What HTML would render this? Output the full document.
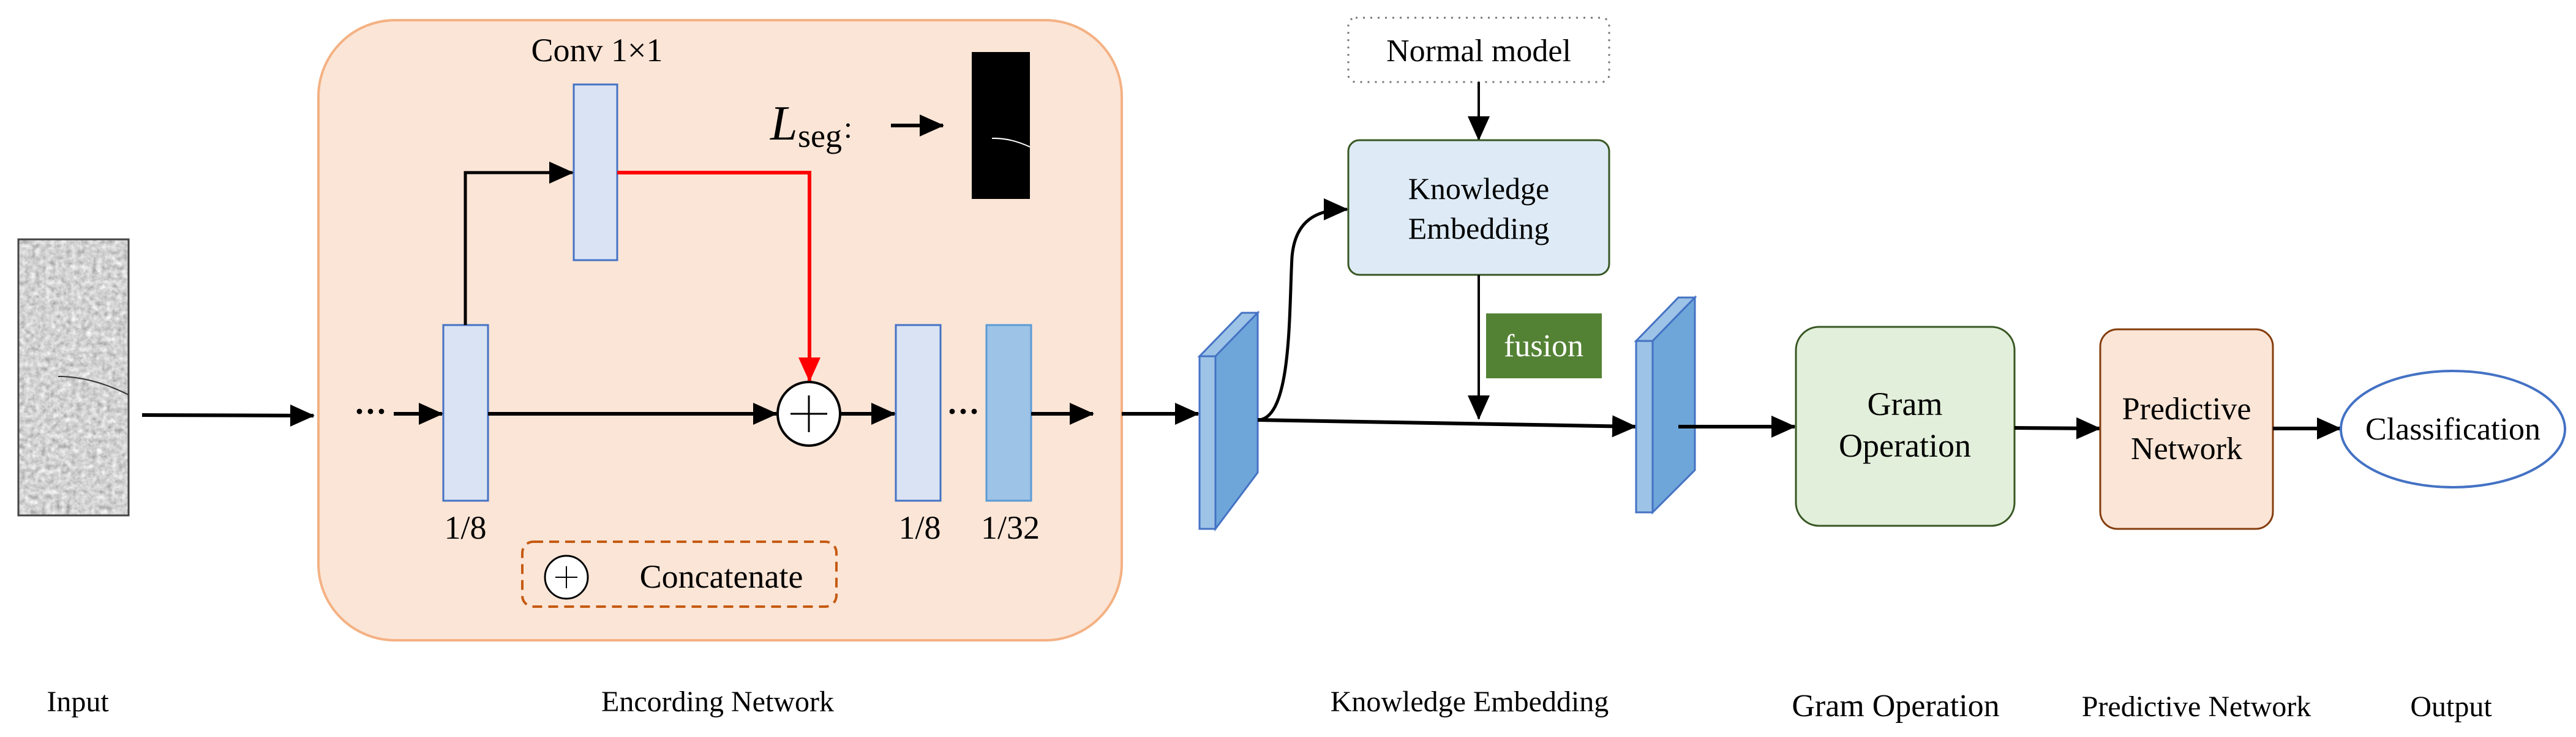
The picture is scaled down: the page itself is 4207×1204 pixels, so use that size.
<!DOCTYPE html>
<html><head><meta charset="utf-8"><style>
html,body{margin:0;padding:0;background:#fff;}
svg{display:block;}
svg text{font-family:'Liberation Serif','DejaVu Serif','Times New Roman',serif !important;}
</style></head><body>
<svg width="4207" height="1204" viewBox="0 0 4207 1204" xmlns="http://www.w3.org/2000/svg" style="font-family:'Liberation Serif','DejaVu Serif',serif">
<defs>
<marker id="ah" markerWidth="40" markerHeight="36" refX="38" refY="18" orient="auto" markerUnits="userSpaceOnUse">
<path d="M0,0 L40,18 L0,36 z" fill="#000"/></marker>
<marker id="ahr" markerWidth="40" markerHeight="36" refX="38" refY="18" orient="auto" markerUnits="userSpaceOnUse">
<path d="M0,0 L40,18 L0,36 z" fill="#f00"/></marker>
<filter id="noise" x="0" y="0" width="100%" height="100%">
<feTurbulence type="fractalNoise" baseFrequency="0.12" numOctaves="3" seed="3"/>
<feColorMatrix type="matrix" values="0.5 0.5 0 0 0.15  0.5 0.5 0 0 0.15  0.5 0.5 0 0 0.15  0 0 0 0 1"/>
</filter>
</defs>

<rect x="30" y="391" width="180" height="451" filter="url(#noise)"/>
<rect x="30" y="391" width="180" height="451" fill="none" stroke="#444" stroke-width="3"/>
<path d="M95,615 Q150,615 210,645" stroke="#333" stroke-width="2" fill="none"/>
<line x1="232" y1="678" x2="512" y2="679" stroke="#000" stroke-width="6" marker-end="url(#ah)"/>

<rect x="520" y="33" width="1312" height="1013" rx="125" fill="#fbe5d6" stroke="#f4b183" stroke-width="4"/>
<text x="975" y="100" font-size="54" text-anchor="middle">Conv 1×1</text>
<rect x="937" y="138" width="71" height="287" fill="#dae3f3" stroke="#4472c4" stroke-width="3"/>
<rect x="724" y="531" width="73" height="287" fill="#dae3f3" stroke="#4472c4" stroke-width="3"/>
<rect x="1463" y="531" width="73" height="287" fill="#dae3f3" stroke="#4472c4" stroke-width="3"/>
<rect x="1611" y="531" width="73" height="287" fill="#9dc3e6" stroke="#5b9bd5" stroke-width="3"/>
<text x="605" y="690" font-size="54" font-weight="bold" text-anchor="middle">···</text>
<line x1="643" y1="676" x2="722" y2="676" stroke="#000" stroke-width="6" marker-end="url(#ah)"/>
<polyline points="760,531 760,282 935,282" fill="none" stroke="#000" stroke-width="5" marker-end="url(#ah)"/>
<polyline points="1008,282 1322,282 1322,622" fill="none" stroke="#f00" stroke-width="6" marker-end="url(#ahr)"/>
<line x1="797" y1="676" x2="1268" y2="676" stroke="#000" stroke-width="6" marker-end="url(#ah)"/>
<ellipse cx="1321" cy="676" rx="51" ry="52" fill="#fff" stroke="#000" stroke-width="4"/>
<line x1="1321" y1="646" x2="1321" y2="706" stroke="#000" stroke-width="3"/>
<line x1="1291" y1="676" x2="1351" y2="676" stroke="#000" stroke-width="3"/>
<line x1="1372" y1="676" x2="1461" y2="676" stroke="#000" stroke-width="6" marker-end="url(#ah)"/>
<text x="1573" y="690" font-size="54" font-weight="bold" text-anchor="middle">···</text>
<line x1="1684" y1="676" x2="1785" y2="676" stroke="#000" stroke-width="6" marker-end="url(#ah)"/>
<text x="760" y="880" font-size="54" text-anchor="middle">1/8</text>
<text x="1502" y="880" font-size="54" text-anchor="middle">1/8</text>
<text x="1650" y="880" font-size="54" text-anchor="middle">1/32</text>
<rect x="853" y="885" width="513" height="106" rx="18" fill="none" stroke="#c55a11" stroke-width="4" stroke-dasharray="16,10"/>
<circle cx="925" cy="943" r="35" fill="#fff" stroke="#000" stroke-width="3"/>
<line x1="925" y1="925" x2="925" y2="961" stroke="#000" stroke-width="2"/>
<line x1="907" y1="943" x2="943" y2="943" stroke="#000" stroke-width="2"/>
<text x="1178" y="960" font-size="54" text-anchor="middle">Concatenate</text>
<text x="1258" y="228" font-size="80" font-style="italic">L</text>
<text x="1303" y="240" font-size="54">seg</text>
<text x="1378" y="225" font-size="50">:</text>
<line x1="1455" y1="205" x2="1540" y2="205" stroke="#000" stroke-width="6" marker-end="url(#ah)"/>
<rect x="1587" y="85" width="95" height="240" fill="#000"/>
<path d="M1620,226 Q1650,225 1682,240" stroke="#fff" stroke-width="2" fill="none"/>

<line x1="1832" y1="676" x2="1957" y2="676" stroke="#000" stroke-width="6" marker-end="url(#ah)"/>

<polygon points="1959,582 2028,511 2054,511 1985,582" fill="#9dc3e6" stroke="#4472c4" stroke-width="3"/>
<polygon points="1985,582 2054,511 2054,772 1985,864" fill="#6fa6da" stroke="#4472c4" stroke-width="3"/>
<rect x="1959" y="582" width="26" height="282" fill="#9dc3e6" stroke="#4472c4" stroke-width="3"/>

<rect x="2202" y="29" width="426" height="105" rx="12" fill="#fff" stroke="#777" stroke-width="3" stroke-dasharray="3,9"/>
<text x="2415" y="100" font-size="52" text-anchor="middle">Normal model</text>
<line x1="2415" y1="134" x2="2415" y2="228" stroke="#000" stroke-width="4" marker-end="url(#ah)"/>

<rect x="2202" y="229" width="426" height="220" rx="18" fill="#deebf7" stroke="#385723" stroke-width="3"/>
<text x="2415" y="325" font-size="50" text-anchor="middle">Knowledge</text>
<text x="2415" y="390" font-size="50" text-anchor="middle">Embedding</text>
<path d="M2054,686 C2110,686 2105,510 2110,420 C2115,360 2150,342 2200,342" fill="none" stroke="#000" stroke-width="5" marker-end="url(#ah)"/>
<line x1="2054" y1="686" x2="2671" y2="697" stroke="#000" stroke-width="6" marker-end="url(#ah)"/>
<line x1="2415" y1="449" x2="2415" y2="684" stroke="#000" stroke-width="4" marker-end="url(#ah)"/>
<rect x="2427" y="512" width="189" height="106" fill="#548235"/>
<text x="2521" y="582" font-size="52" text-anchor="middle" fill="#fff">fusion</text>

<polygon points="2672,557 2741,486 2768,486 2699,557" fill="#9dc3e6" stroke="#4472c4" stroke-width="3"/>
<polygon points="2699,557 2768,486 2768,768 2699,837" fill="#6fa6da" stroke="#4472c4" stroke-width="3"/>
<rect x="2672" y="557" width="27" height="280" fill="#9dc3e6" stroke="#4472c4" stroke-width="3"/>
<line x1="2741" y1="697" x2="2931" y2="697" stroke="#000" stroke-width="6" marker-end="url(#ah)"/>

<rect x="2933" y="534" width="357" height="325" rx="38" fill="#e2efda" stroke="#385723" stroke-width="3"/>
<text x="3111" y="678" font-size="54" text-anchor="middle">Gram</text>
<text x="3111" y="746" font-size="54" text-anchor="middle">Operation</text>
<line x1="3290" y1="699" x2="3429" y2="700" stroke="#000" stroke-width="6" marker-end="url(#ah)"/>

<rect x="3430" y="538" width="282" height="326" rx="28" fill="#fbe5d6" stroke="#843c0c" stroke-width="3"/>
<text x="3571" y="685" font-size="52" text-anchor="middle">Predictive</text>
<text x="3571" y="750" font-size="52" text-anchor="middle">Network</text>
<line x1="3712" y1="700" x2="3822" y2="700" stroke="#000" stroke-width="6" marker-end="url(#ah)"/>

<ellipse cx="4006" cy="701" rx="183" ry="95" fill="#fff" stroke="#4472c4" stroke-width="4"/>
<text x="4006" y="718" font-size="52" text-anchor="middle">Classification</text>

<text x="127" y="1162" font-size="48" text-anchor="middle">Input</text>
<text x="1172" y="1162" font-size="48" text-anchor="middle">Encording Network</text>
<text x="2400" y="1162" font-size="48" text-anchor="middle">Knowledge Embedding</text>
<text x="3096" y="1170" font-size="52" text-anchor="middle">Gram Operation</text>
<text x="3587" y="1170" font-size="48" text-anchor="middle">Predictive Network</text>
<text x="4003" y="1170" font-size="48" text-anchor="middle">Output</text>
</svg>
</body></html>
